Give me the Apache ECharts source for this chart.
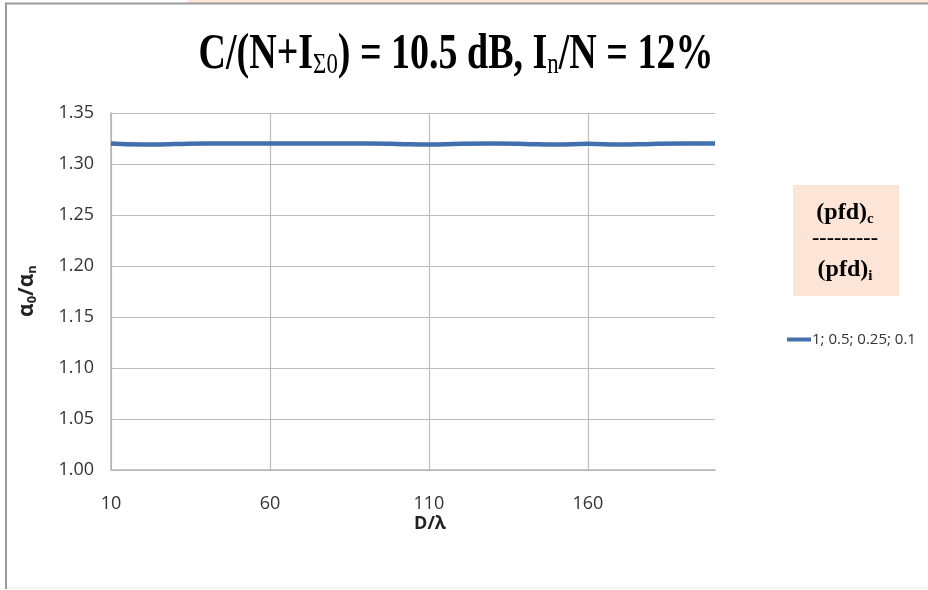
<!DOCTYPE html>
<html>
<head>
<meta charset="utf-8">
<script src="https://cdn.jsdelivr.net/npm/echarts@6/dist/echarts.min.js"></script>
<style>html,body{margin:0;padding:0;background:#fff;}#c{width:928px;height:590px;}</style>
</head>
<body>
<div id="c"></div>
<script>
const xValues = [10,20,30,40,50,60,70,80,90,100,110,120,130,140,150,160,170,180,190,200];
const yValues = [1.320,1.319,1.3195,1.320,1.320,1.320,1.320,1.320,1.320,1.3197,1.319,1.3198,1.320,1.3197,1.319,1.3198,1.319,1.3197,1.320,1.320];
const seriesName = '1; 0.5; 0.25; 0.1';
const yTicks = {min: 1.00, max: 1.35, interval: 0.05};
const xTicks = {min: 10, max: 200, interval: 50};

const chart = echarts.init(document.getElementById('c'));
const labelFont = '"Open Sans", "Liberation Sans", sans-serif';
chart.setOption({
  animation: false,
  backgroundColor: '#fff',
  grid: {left: 111, right: 213, top: 113, bottom: 120},
  xAxis: {
    type: 'value', min: xTicks.min, max: xTicks.max, interval: xTicks.interval,
    axisLine: {show: true, lineStyle: {color: '#b5b5b5', width: 1.5}},
    axisTick: {show: false},
    splitLine: {show: true, showMaxLine: false, lineStyle: {color: '#bdbdbd', width: 1.2}},
    axisLabel: {showMaxLabel: false, margin: 25, fontSize: 18, color: '#333', fontFamily: labelFont}
  },
  yAxis: {
    type: 'value', min: yTicks.min, max: yTicks.max, interval: yTicks.interval,
    axisLine: {show: true, lineStyle: {color: '#b5b5b5', width: 1.5}},
    axisTick: {show: false},
    splitLine: {show: true, lineStyle: {color: '#bdbdbd', width: 1.2}},
    axisLabel: {margin: 17, fontSize: 18, color: '#333', fontFamily: labelFont,
      formatter: v => v.toFixed(2)}
  },
  legend: {
    show: true, orient: 'vertical', left: 782, top: 327,
    itemWidth: 24, itemHeight: 14, itemGap: 4,
    textStyle: {fontSize: 15, color: '#333', fontFamily: labelFont, padding: [0,0,0,-4]},
    data: [{name: seriesName, icon: 'path://M0,0 L24,0 L24,4 L0,4 Z'}]
  },
  series: [{
    name: seriesName, type: 'line', symbol: 'none', smooth: true,
    data: xValues.map((x, i) => [x, yValues[i]]),
    lineStyle: {color: '#4270AE', width: 4.5},
    itemStyle: {color: '#4270AE'}
  }],
  graphic: [
    {type: 'rect', shape: {x: 188, y: 0, width: 740, height: 3}, style: {fill: '#FCE4D6'}, silent: true},
    {type: 'polyline', shape: {points: [[6,589],[6,3.5],[928,3.5]]}, style: {stroke: '#9a9a9a', lineWidth: 2, fill: null}, silent: true},
    {type: 'line', shape: {x1: 7, y1: 588, x2: 928, y2: 588}, style: {stroke: '#e6e6e6', lineWidth: 1}, silent: true},
    {type: 'text', x: 456, y: 55, scaleX: 0.76,
      style: {
        x: 0, y: 0, align: 'center', verticalAlign: 'middle',
        text: 'C/(N+I{sub|Σ0}) = 10.5 dB, I{sub|n}/N = 12%',
        font: 'bold 50px "Liberation Serif", "Times New Roman", serif',
        fill: '#000',
        rich: {sub: {font: '30px "Liberation Serif", serif', fill: '#000', verticalAlign: 'bottom', padding: [20,0,0,0]}}
      }},
    {type: 'text', rotation: Math.PI/2, x: 27, y: 291,
      style: {
        text: 'α{s|0}/α{s|n}', align: 'center', verticalAlign: 'middle',
        font: 'bold 21px "Open Sans", "DejaVu Sans", sans-serif', fill: '#222',
        rich: {s: {font: 'bold 13px "Open Sans", sans-serif', fill: '#222', padding: [10,0,0,0]}}
      }},
    {type: 'text', x: 430, y: 524,
      style: {text: 'D/λ', align: 'center', verticalAlign: 'middle',
        font: 'bold 18px "Open Sans", "DejaVu Sans", sans-serif', fill: '#222'}},
    {type: 'rect', shape: {x: 793, y: 185, width: 106, height: 111}, style: {fill: '#FCE4D6'}, silent: true},
    {type: 'text', x: 845, y: 213,
      style: {text: '(pfd){s|c}', align: 'center', verticalAlign: 'middle',
        font: 'bold 24px "Liberation Serif", serif', fill: '#000',
        rich: {s: {font: 'bold 15px "Liberation Serif", serif', fill: '#000', padding: [12,0,0,0]}}}},
    {type: 'text', x: 845, y: 238,
      style: {text: '---------', align: 'center', verticalAlign: 'middle',
        font: 'bold 22px "Liberation Serif", serif', fill: '#000'}},
    {type: 'text', x: 845, y: 270,
      style: {text: '(pfd){s|i}', align: 'center', verticalAlign: 'middle',
        font: 'bold 24px "Liberation Serif", serif', fill: '#000',
        rich: {s: {font: 'bold 15px "Liberation Serif", serif', fill: '#000', padding: [12,0,0,0]}}}}
  ]
});
</script>
</body>
</html>
